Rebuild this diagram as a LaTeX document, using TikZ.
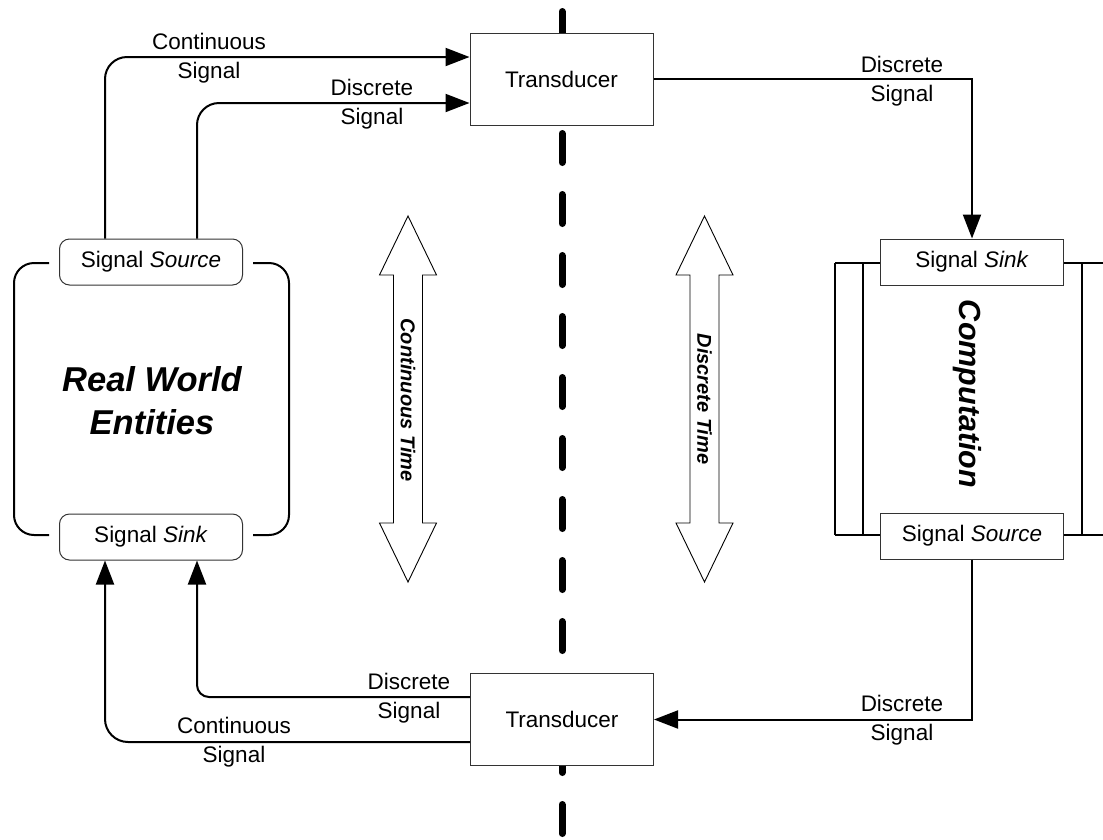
\documentclass[tikz,border=0pt]{standalone}
\usepackage{fontspec}
\setmainfont{Liberation Sans}
\usetikzlibrary{arrows.meta}
\begin{document}
\begin{tikzpicture}[x=1pt,y=-1pt,
  lbl/.style={font=\fontsize{22.5}{29}\selectfont, align=center, inner sep=0pt},
  box/.style={draw=black!80, line width=1pt, fill=white, minimum width=183pt, minimum height=46pt, inner sep=0pt, font=\fontsize{22.5}{27}\selectfont},
  rbox/.style={box, rounded corners=10pt},
  tbox/.style={box, minimum height=92pt},
  conn/.style={line width=2pt, -{Triangle[length=24pt,width=18pt]}},
  heavy/.style={line width=2pt},
  dbl/.style={draw=black, line width=0.9pt, fill=white},
  big/.style={font=\fontsize{34.5}{43}\selectfont\bfseries\itshape, align=center, inner sep=0pt},
  bigc/.style={font=\fontsize{30.5}{36}\selectfont\bfseries\itshape, inner sep=0pt},
  mid/.style={font=\fontsize{20}{24}\selectfont\bfseries\itshape, inner sep=0pt}
]
\useasboundingbox (0,0) rectangle (1103,839);
% dividing dashed line
\draw[line width=7pt, line cap=round, dash pattern=on 29pt off 32pt] (562,11.5) -- (562,842);
% computation frame
\draw[heavy] (835,263) -- (835,535);
\draw[heavy] (863,263) -- (863,535);
\draw[heavy] (1082,263) -- (1082,535);
\draw[heavy] (835,263) -- (1103,263);
\draw[heavy] (835,535) -- (1103,535);
% real world brackets
\draw[heavy, rounded corners=20pt] (49,263) -- (14,263) -- (14,535) -- (49,535);
\draw[heavy, rounded corners=20pt] (253,263) -- (289,263) -- (289,535) -- (253,535);
% nodes
\node[tbox] (tt) at (561.5,79) {Transducer};
\node[tbox] (bt) at (562,719.5) {Transducer};
\node[rbox] (lsrc) at (151,262) {Signal \textit{Source}};
\node[rbox] (lsnk) at (151,537) {Signal \textit{Sink}};
\node[box] (csnk) at (972,262) {Signal \textit{Sink}};
\node[box] (csrc) at (972,536) {Signal \textit{Source}};
\node[big] (rwe) at (152,401) {Real World\\Entities};
\node[bigc, rotate=-90] (comp) at (967,394) {Computation};
% double arrows
\filldraw[dbl] (408,216) -- (436.5,275) -- (422.5,275) -- (422.5,523) -- (436.5,523) -- (408,582) -- (379.5,523) -- (393.5,523) -- (393.5,275) -- (379.5,275) -- cycle;
\filldraw[dbl] (704.5,216) -- (733,275) -- (719,275) -- (719,523) -- (733,523) -- (704.5,582) -- (676,523) -- (690,523) -- (690,275) -- (676,275) -- cycle;
\node[mid, rotate=-90] (ct) at (408,400) {Continuous Time};
\node[mid, rotate=-90] (dt) at (704.5,399) {Discrete Time};
% connectors
\draw[conn, rounded corners=22pt] ([xshift=-46pt]lsrc.north) |- ([yshift=22pt]tt.west);
\draw[conn, rounded corners=22pt] ([xshift=46pt]lsrc.north) |- ([yshift=-24pt]tt.west);
\draw[conn] (tt.east) -| (csnk.north);
\draw[conn] (csrc.south) |- (bt.east);
\draw[conn, rounded corners=12pt] ([yshift=22.5pt]bt.west) -| ([xshift=46pt]lsnk.south);
\draw[conn, rounded corners=23pt] ([yshift=-22.5pt]bt.west) -| ([xshift=-46pt]lsnk.south);
% labels
\node[lbl] (l1) at (209,58) {Continuous\\Signal};
\node[lbl] (l2) at (372,104) {Discrete\\Signal};
\node[lbl] (l3) at (902,81) {Discrete\\Signal};
\node[lbl] (l4) at (902,720) {Discrete\\Signal};
\node[lbl] (l5) at (409,698) {Discrete\\Signal};
\node[lbl] (l6) at (234,742) {Continuous\\Signal};
\end{tikzpicture}
\end{document}
